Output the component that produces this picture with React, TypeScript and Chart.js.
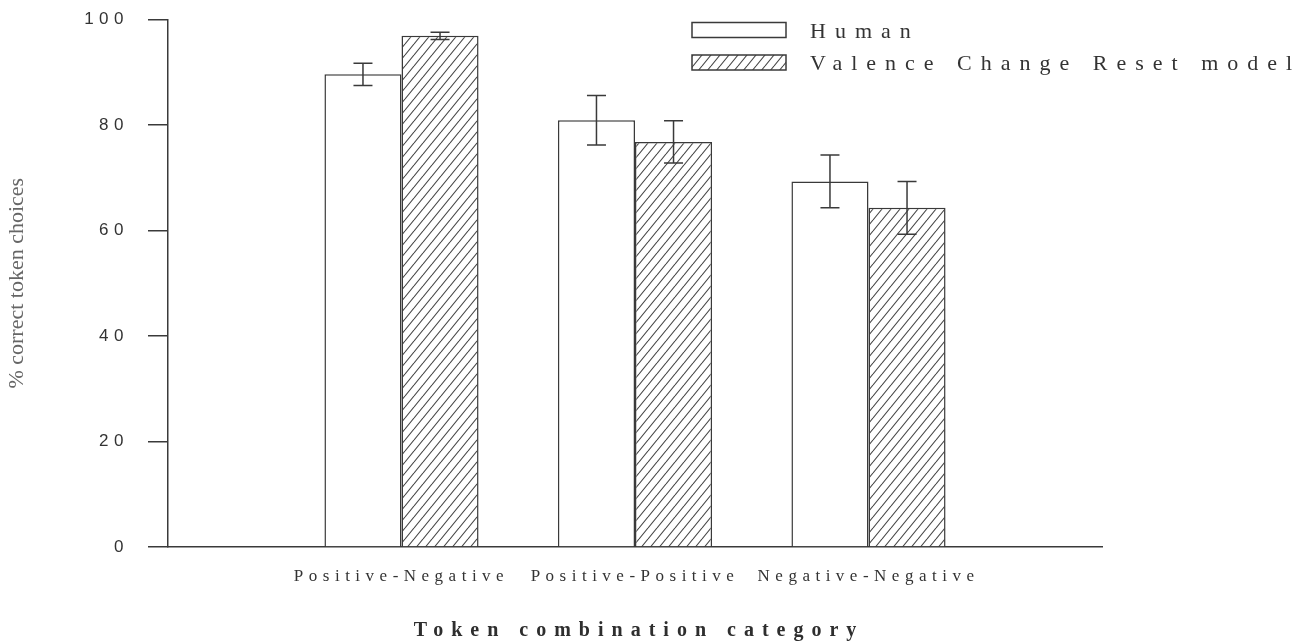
import { useEffect, useRef } from 'react';
import { Chart, registerables } from 'chart.js';

Chart.register(...registerables);

// Category names and per-series values (percent correct, with error half-widths)
const categories = ['Positive-Negative', 'Positive-Positive', 'Negative-Negative'];
const humanMeans = [89.6, 80.9, 69.3];
const humanErrors = [2.1, 4.7, 5.0];
const modelMeans = [96.9, 76.8, 64.3];
const modelErrors = [0.7, 4.0, 5.0];
const seriesNames = ['Human', 'Valence Change Reset model'];
const yTickValues = [0, 20, 40, 60, 80, 100];
const xTitle = 'Token combination category';
const yTitle = '% correct token choices';

// an empty slot on each side of the three categories
const pad = <T,>(arr: T[]): (T | null)[] => [null, ...arr, null];

const INK = '#3a3a3a';

function makeHatch(): CanvasPattern | string {
  const w = 9;
  const h = 11;
  const c = document.createElement('canvas');
  c.width = w;
  c.height = h;
  const g = c.getContext('2d');
  if (!g) return '#ccc';
  g.fillStyle = '#ffffff';
  g.fillRect(0, 0, w, h);
  g.strokeStyle = '#444';
  g.lineWidth = 1.1;
  for (const dx of [-w, 0, w]) {
    g.beginPath();
    g.moveTo(dx, h);
    g.lineTo(dx + w, 0);
    g.stroke();
  }
  return g.createPattern(c, 'repeat') || '#ccc';
}

function drawSpaced(
  ctx: CanvasRenderingContext2D,
  text: string,
  x: number,
  y: number,
  spacing: number,
  align: 'left' | 'center'
) {
  ctx.save();
  (ctx as any).letterSpacing = spacing + 'px';
  ctx.textBaseline = 'middle';
  ctx.textAlign = 'left';
  const w = ctx.measureText(text).width - spacing;
  const x0 = align === 'center' ? x - w / 2 : x;
  ctx.fillText(text, x0, y);
  ctx.restore();
}

const errorBarsPlugin = {
  id: 'errorBars',
  afterDatasetsDraw(chart: any) {
    const ctx: CanvasRenderingContext2D = chart.ctx;
    const yScale = chart.scales.y;
    chart.data.datasets.forEach((ds: any, di: number) => {
      const meta = chart.getDatasetMeta(di);
      meta.data.forEach((bar: any, i: number) => {
        const v = ds.data[i];
        const e = ds.errors[i];
        if (v == null || e == null) return;
        const top = yScale.getPixelForValue(v + e);
        const bot = yScale.getPixelForValue(v - e);
        const half = 9.5;
        ctx.save();
        ctx.strokeStyle = INK;
        ctx.lineWidth = 1.5;
        ctx.beginPath();
        ctx.moveTo(bar.x, top);
        ctx.lineTo(bar.x, bot);
        ctx.moveTo(bar.x - half, top);
        ctx.lineTo(bar.x + half, top);
        ctx.moveTo(bar.x - half, bot);
        ctx.lineTo(bar.x + half, bot);
        ctx.stroke();
        ctx.restore();
      });
    });
  },
};

const textPlugin = {
  id: 'spacedText',
  beforeDraw(chart: any) {
    // tick labels are drawn letter-spaced
    (chart.ctx as any).letterSpacing = '5.5px';
  },
  afterDraw(chart: any) {
    const ctx: CanvasRenderingContext2D = chart.ctx;
    (ctx as any).letterSpacing = '0px';
    const area = chart.chartArea;
    const xs = chart.scales.x;

    // x axis title
    ctx.save();
    ctx.fillStyle = '#2e2e2e';
    ctx.font = 'bold 20px "Liberation Serif"';
    drawSpaced(ctx, xTitle, (xs.left + xs.right) / 2, 631, 8, 'center');
    ctx.restore();

    // y axis title
    ctx.save();
    ctx.fillStyle = '#666';
    ctx.font = '22px "Liberation Serif"';
    ctx.translate(17, (area.top + area.bottom) / 2);
    ctx.rotate(-Math.PI / 2);
    ctx.textAlign = 'center';
    ctx.textBaseline = 'middle';
    ctx.fillText(yTitle, 0, 0);
    ctx.restore();

    // legend
    const boxX = 692;
    const boxW = 94;
    const boxH = 15;
    const rows = [30, 62.5];
    chart.data.datasets.forEach((ds: any, i: number) => {
      const cy = rows[i];
      ctx.save();
      ctx.fillStyle = ds.backgroundColor;
      ctx.fillRect(boxX, cy - boxH / 2, boxW, boxH);
      ctx.strokeStyle = INK;
      ctx.lineWidth = 1.5;
      ctx.strokeRect(boxX, cy - boxH / 2, boxW, boxH);
      ctx.fillStyle = '#333';
      ctx.font = '22px "Liberation Serif"';
      drawSpaced(ctx, ds.label, 810, cy + 2, 9, 'left');
      ctx.restore();
    });
  },
};

export default function App() {
  const canvasRef = useRef<HTMLCanvasElement | null>(null);

  useEffect(() => {
    document.body.style.margin = '0';
    const canvas = canvasRef.current;
    if (!canvas) return;
    const hatch = makeHatch();

    const chart = new Chart(canvas, {
      type: 'bar',
      data: {
        labels: ['', ...categories, ''],
        datasets: [
          {
            label: seriesNames[0],
            data: pad(humanMeans),
            errors: pad(humanErrors),
            backgroundColor: '#ffffff',
            borderColor: INK,
            borderWidth: 1.5,
            categoryPercentage: 0.66,
            barPercentage: 1,
          } as any,
          {
            label: seriesNames[1],
            data: pad(modelMeans),
            errors: pad(modelErrors),
            backgroundColor: hatch,
            borderColor: INK,
            borderWidth: 1.5,
            categoryPercentage: 0.66,
            barPercentage: 1,
          } as any,
        ],
      },
      options: {
        responsive: false,
        animation: false,
        layout: { padding: { top: 19.5, right: 207, left: 0, bottom: 0 } },
        plugins: {
          legend: { display: false },
          tooltip: { enabled: false },
        },
        scales: {
          x: {
            type: 'category',
            offset: false,
            grid: { display: false, drawTicks: false, offset: false },
            border: { display: true, color: INK, width: 1.5 },
            ticks: {
              autoSkip: false,
              maxRotation: 0,
              padding: 19,
              color: '#333',
              font: { family: 'Liberation Serif', size: 17 },
            },
            afterFit: (s: any) => {
              s.height = 96;
            },
          },
          y: {
            min: 0,
            max: 100,
            afterBuildTicks: (s: any) => {
              s.ticks = yTickValues.map((v) => ({ value: v }));
            },
            grid: {
              drawOnChartArea: false,
              tickLength: 20,
              color: INK,
              lineWidth: 1.5,
            },
            border: { color: INK, width: 1.5 },
            ticks: {
              padding: 19,
              color: '#333',
              font: { family: 'Liberation Sans', size: 17 },
            },
            afterFit: (s: any) => {
              s.width = 168;
              s.paddingTop = 0;
              s.paddingBottom = 0;
            },
          },
        },
      } as any,
      plugins: [errorBarsPlugin, textPlugin],
    });

    return () => chart.destroy();
  }, []);

  return (
    <div style={{ width: 1309, height: 643, background: '#ffffff' }}>
      <canvas ref={canvasRef} width={1309} height={643} style={{ display: 'block' }} />
    </div>
  );
}
